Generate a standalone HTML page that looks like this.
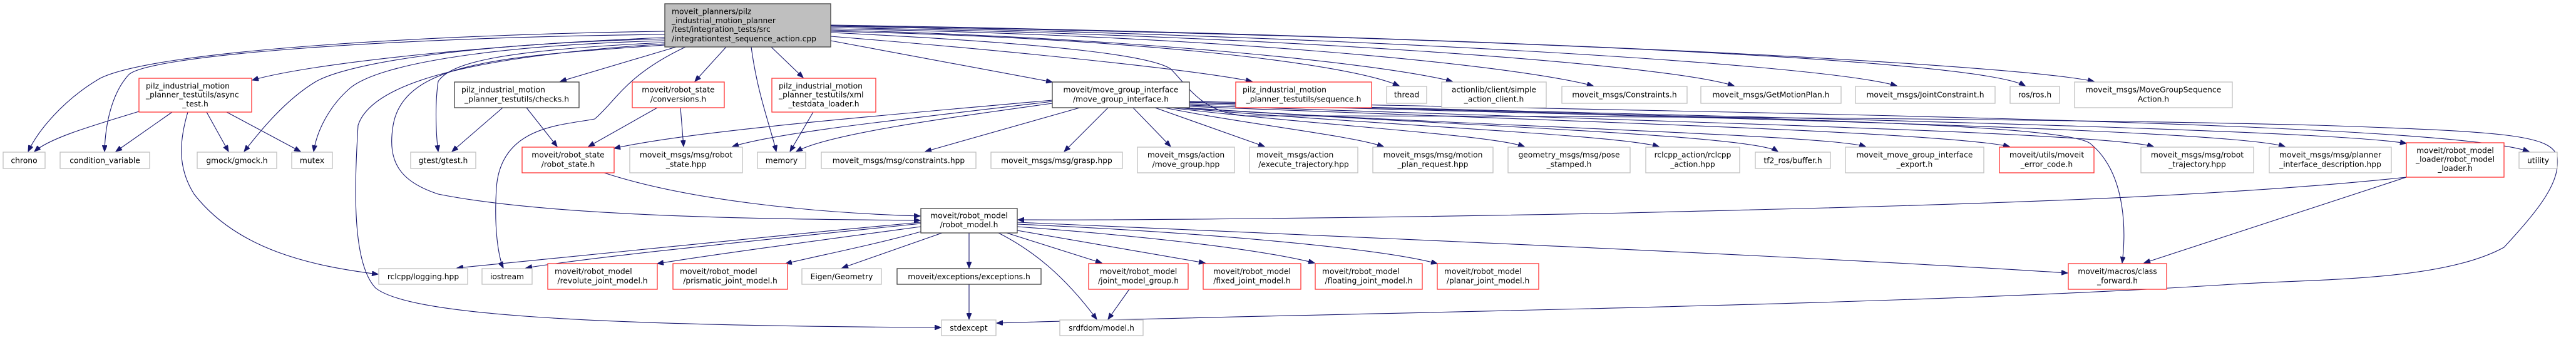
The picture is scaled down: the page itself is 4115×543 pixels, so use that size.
<!DOCTYPE html>
<html><head><meta charset="utf-8"><style>
html,body{margin:0;padding:0;background:#fff;}
svg{display:block;}
text{font-family:"DejaVu Sans","Liberation Sans",sans-serif;font-size:12.3px;fill:#000;}
.g{fill:#fff;stroke:#bfbfbf;stroke-width:1.3}
.r{fill:#fff;stroke:#ff3333;stroke-width:1.3}
.k{fill:#fff;stroke:#404040;stroke-width:1.3}
.m{fill:#bfbfbf;stroke:#404040;stroke-width:1.3}
path{fill:none;stroke:#191970;stroke-width:1.1;marker-end:url(#a)}
</style></head><body>
<svg width="4115" height="543" viewBox="0 0 4115 543" xmlns="http://www.w3.org/2000/svg">
<defs><marker id="a" markerUnits="userSpaceOnUse" markerWidth="11" markerHeight="8" refX="10" refY="4" orient="auto"><polygon points="0,0 10,4 0,8" fill="#191970" stroke="#191970"/></marker></defs>
<!-- edges from main -->
<path d="M1062,50 C700,55 250,80 160,125 C100,160 60,210 45,242"/>
<path d="M1062,55 C600,60 230,90 205,120 C178,150 168,200 167,242"/>
<path d="M1062,60 C800,70 500,100 403,128"/>
<path d="M1062,62 C750,70 560,100 505,130 C455,160 415,210 390,242"/>
<path d="M1062,65 C800,72 610,100 560,140 C525,170 506,210 501,242"/>
<path d="M1062,68 C800,80 720,100 700,130 C694,170 697,220 700,242"/>
<path d="M1062,70 C760,90 595,130 572,200 C566,300 562,420 600,460 C650,500 900,520 1503,523"/>
<path d="M1062,72 C800,90 645,100 628,200 C618,260 640,290 700,310 C900,350 1300,350 1470,352"/>
<path d="M1095,75 C1000,120 985,160 950,190 C900,200 800,200 793,300 C788,380 800,420 804,428"/>
<path d="M1080,75 L895,130"/>
<path d="M1160,75 L1110,130"/>
<path d="M1200,75 C1210,150 1230,200 1240,242"/>
<path d="M1232,75 L1283,124"/>
<path d="M1327,65 L1681,131"/>
<path d="M1327,58 C1600,80 1900,110 2000,130"/>
<path d="M1327,50 C1800,60 2150,100 2235,137"/>
<path d="M1327,48 C1800,60 2200,100 2320,130"/>
<path d="M1327,46 C1900,55 2400,100 2545,137"/>
<path d="M1327,44 C2000,55 2650,100 2770,137"/>
<path d="M1327,42 C2100,55 2900,100 3030,137"/>
<path d="M1327,41 C2200,55 3150,90 3235,137"/>
<path d="M1327,40 C2300,55 3200,100 3345,130"/>
<path d="M1327,52 C1700,70 1840,90 1870,110 C1900,140 1920,180 1990,185 C2600,185 3300,190 3700,200 C4000,210 4075,215 4085,250 C4090,290 4060,330 4000,395 C3900,450 3700,445 3550,455 C3000,490 2100,500 1592,516"/>
<!-- from move_group_interface -->
<path d="M1681,160 C1400,185 1100,210 981,237"/>
<path d="M1681,162 C1450,190 1250,210 1170,234"/>
<path d="M1681,165 C1500,190 1320,215 1272,242"/>
<path d="M1725,172 L1478,242"/>
<path d="M1770,172 L1700,242"/>
<path d="M1810,172 L1870,234"/>
<path d="M1845,172 L2020,234"/>
<path d="M1860,172 C2000,200 2150,215 2210,234"/>
<path d="M1870,172 C2100,200 2380,215 2435,234"/>
<path d="M1880,172 C2200,200 2580,215 2650,234"/>
<path d="M1890,172 C2300,200 2800,215 2840,242"/>
<path d="M1895,172 C2300,200 2920,215 2980,234"/>
<path d="M1900,170 C2400,190 3100,210 3210,234"/>
<path d="M1900,168 C2500,190 3350,210 3440,234"/>
<path d="M1900,166 C2600,185 3550,205 3650,234"/>
<path d="M1900,164 C2700,185 3700,205 3844,229"/>
<path d="M1900,162 C2800,180 3900,195 4040,242"/>
<path d="M1900,163 C2500,185 3300,190 3340,230 C3400,280 3395,380 3390,420"/>
<!-- others -->
<path d="M222,178 C150,200 80,220 55,242"/>
<path d="M275,179 L185,242"/>
<path d="M330,179 L365,242"/>
<path d="M362,179 L480,242"/>
<path d="M300,179 C285,230 285,270 310,310 C380,400 500,425 604,438"/>
<path d="M803,172 L722,242"/>
<path d="M841,172 L890,234"/>
<path d="M1050,172 L940,234"/>
<path d="M1087,172 L1092,234"/>
<path d="M1299,179 L1262,242"/>
<path d="M965,276 C1100,320 1300,340 1470,345"/>
<path d="M3844,283 C3500,320 3000,330 2600,340 C2200,348 1800,352 1626,351"/>
<path d="M3844,283 L3425,420"/>
<path d="M1471,355 C1200,380 900,410 730,428"/>
<path d="M1471,357 C1200,385 950,410 840,428"/>
<path d="M1471,362 C1300,385 1150,405 1050,421"/>
<path d="M1471,370 C1400,390 1300,410 1255,421"/>
<path d="M1505,372 L1345,428"/>
<path d="M1548,372 L1548,428"/>
<path d="M1595,372 C1650,400 1700,440 1752,510"/>
<path d="M1608,372 L1760,420"/>
<path d="M1625,368 L1925,420"/>
<path d="M1625,362 C1800,375 2000,395 2100,420"/>
<path d="M1625,358 C1900,370 2200,395 2296,421"/>
<path d="M1625,355 C2200,380 2900,410 3303,436"/>
<path d="M1804,462 L1770,510"/>
<path d="M1548,454 L1548,510"/>
<!-- nodes -->
<g>
<rect class="m" x="1062" y="6" width="265" height="69"/>
<text x="1073" y="22.5">moveit_planners/pilz</text><text x="1073" y="37">_industrial_motion_planner</text><text x="1073" y="51">/test/integration_tests/src</text><text x="1073" y="66">/integrationtest_sequence_action.cpp</text>
</g>
<rect class="r" x="222" y="125" width="180" height="54"/>
<text x="233" y="141.5">pilz_industrial_motion</text><text x="233" y="155.5">_planner_testutils/async</text><text x="312" y="170" text-anchor="middle">_test.h</text>
<rect class="g" x="5" y="243" width="67" height="26"/><text x="38.5" y="260.5" text-anchor="middle">chrono</text>
<rect class="g" x="96" y="243" width="143" height="26"/><text x="167.5" y="260.5" text-anchor="middle">condition_variable</text>
<rect class="g" x="315" y="243" width="127" height="26"/><text x="378.5" y="260.5" text-anchor="middle">gmock/gmock.h</text>
<rect class="g" x="466" y="243" width="65" height="26"/><text x="498.5" y="260.5" text-anchor="middle">mutex</text>
<rect class="g" x="656" y="243" width="104" height="26"/><text x="708" y="260.5" text-anchor="middle">gtest/gtest.h</text>
<rect class="k" x="726" y="131" width="199" height="41"/><text x="737" y="147.5">pilz_industrial_motion</text><text x="825.5" y="162.5" text-anchor="middle">_planner_testutils/checks.h</text>
<rect class="r" x="1010" y="131" width="147" height="41"/><text x="1083.5" y="147.5" text-anchor="middle">moveit/robot_state</text><text x="1083.5" y="162.5" text-anchor="middle">/conversions.h</text>
<rect class="r" x="1233" y="125" width="166" height="54"/><text x="1244" y="141.5">pilz_industrial_motion</text><text x="1244" y="155.5">_planner_testutils/xml</text><text x="1316" y="170" text-anchor="middle">_testdata_loader.h</text>
<rect class="r" x="834" y="235" width="147" height="41"/><text x="907.5" y="251.5" text-anchor="middle">moveit/robot_state</text><text x="907.5" y="266.5" text-anchor="middle">/robot_state.h</text>
<rect class="g" x="1006" y="235" width="180" height="41"/><text x="1096" y="251.5" text-anchor="middle">moveit_msgs/msg/robot</text><text x="1096" y="266.5" text-anchor="middle">_state.hpp</text>
<rect class="g" x="1210" y="243" width="77" height="26"/><text x="1248.5" y="260.5" text-anchor="middle">memory</text>
<rect class="g" x="1312" y="243" width="247" height="26"/><text x="1435.5" y="260.5" text-anchor="middle">moveit_msgs/msg/constraints.hpp</text>
<rect class="g" x="1583" y="243" width="210" height="26"/><text x="1688" y="260.5" text-anchor="middle">moveit_msgs/msg/grasp.hpp</text>
<rect class="k" x="1681" y="131" width="219" height="41"/><text x="1790.5" y="147.5" text-anchor="middle">moveit/move_group_interface</text><text x="1790.5" y="162.5" text-anchor="middle">/move_group_interface.h</text>
<rect class="r" x="1974" y="131" width="217" height="41"/><text x="1985" y="147.5">pilz_industrial_motion</text><text x="2082.5" y="162.5" text-anchor="middle">_planner_testutils/sequence.h</text>
<rect class="g" x="2215" y="138" width="64" height="27"/><text x="2247" y="155.5" text-anchor="middle">thread</text>
<rect class="g" x="2303" y="131" width="167" height="41"/><text x="2386.5" y="147.5" text-anchor="middle">actionlib/client/simple</text><text x="2386.5" y="162.5" text-anchor="middle">_action_client.h</text>
<rect class="g" x="2495" y="138" width="200" height="27"/><text x="2595" y="155.5" text-anchor="middle">moveit_msgs/Constraints.h</text>
<rect class="g" x="2717" y="138" width="224" height="27"/><text x="2829" y="155.5" text-anchor="middle">moveit_msgs/GetMotionPlan.h</text>
<rect class="g" x="2964" y="138" width="223" height="27"/><text x="3075.5" y="155.5" text-anchor="middle">moveit_msgs/JointConstraint.h</text>
<rect class="g" x="3211" y="138" width="79" height="27"/><text x="3250.5" y="155.5" text-anchor="middle">ros/ros.h</text>
<rect class="g" x="3314" y="131" width="252" height="41"/><text x="3440" y="147.5" text-anchor="middle">moveit_msgs/MoveGroupSequence</text><text x="3440" y="162.5" text-anchor="middle">Action.h</text>
<rect class="g" x="1817" y="235" width="155" height="41"/><text x="1894.5" y="251.5" text-anchor="middle">moveit_msgs/action</text><text x="1894.5" y="266.5" text-anchor="middle">/move_group.hpp</text>
<rect class="g" x="1996" y="235" width="173" height="41"/><text x="2007" y="251.5">moveit_msgs/action</text><text x="2082.5" y="266.5" text-anchor="middle">/execute_trajectory.hpp</text>
<rect class="g" x="2193" y="235" width="192" height="41"/><text x="2289" y="251.5" text-anchor="middle">moveit_msgs/msg/motion</text><text x="2289" y="266.5" text-anchor="middle">_plan_request.hpp</text>
<rect class="g" x="2409" y="235" width="195" height="41"/><text x="2506.5" y="251.5" text-anchor="middle">geometry_msgs/msg/pose</text><text x="2506.5" y="266.5" text-anchor="middle">_stamped.h</text>
<rect class="g" x="2629" y="235" width="150" height="41"/><text x="2704" y="251.5" text-anchor="middle">rclcpp_action/rclcpp</text><text x="2704" y="266.5" text-anchor="middle">_action.hpp</text>
<rect class="g" x="2804" y="243" width="120" height="26"/><text x="2864" y="260.5" text-anchor="middle">tf2_ros/buffer.h</text>
<rect class="g" x="2948" y="235" width="221" height="41"/><text x="3058.5" y="251.5" text-anchor="middle">moveit_move_group_interface</text><text x="3058.5" y="266.5" text-anchor="middle">_export.h</text>
<rect class="r" x="3194" y="235" width="151" height="41"/><text x="3269.5" y="251.5" text-anchor="middle">moveit/utils/moveit</text><text x="3269.5" y="266.5" text-anchor="middle">_error_code.h</text>
<rect class="g" x="3420" y="235" width="180" height="41"/><text x="3510" y="251.5" text-anchor="middle">moveit_msgs/msg/robot</text><text x="3510" y="266.5" text-anchor="middle">_trajectory.hpp</text>
<rect class="g" x="3625" y="235" width="195" height="41"/><text x="3722.5" y="251.5" text-anchor="middle">moveit_msgs/msg/planner</text><text x="3722.5" y="266.5" text-anchor="middle">_interface_description.hpp</text>
<rect class="r" x="3844" y="228" width="156" height="55"/><text x="3922" y="244.5" text-anchor="middle">moveit/robot_model</text><text x="3922" y="258.5" text-anchor="middle">_loader/robot_model</text><text x="3922" y="273" text-anchor="middle">_loader.h</text>
<rect class="g" x="4024" y="243" width="61" height="26"/><text x="4054.5" y="260.5" text-anchor="middle">utility</text>
<rect class="k" x="1471" y="333" width="154" height="39"/><text x="1548" y="348.5" text-anchor="middle">moveit/robot_model</text><text x="1548" y="363" text-anchor="middle">/robot_model.h</text>
<rect class="g" x="605" y="429" width="142" height="25"/><text x="676" y="446" text-anchor="middle">rclcpp/logging.hpp</text>
<rect class="g" x="770" y="429" width="80" height="25"/><text x="810" y="446" text-anchor="middle">iostream</text>
<rect class="r" x="875" y="421" width="175" height="41"/><text x="886" y="437.5">moveit/robot_model</text><text x="962.5" y="452.5" text-anchor="middle">/revolute_joint_model.h</text>
<rect class="r" x="1075" y="421" width="183" height="41"/><text x="1086" y="437.5">moveit/robot_model</text><text x="1166.5" y="452.5" text-anchor="middle">/prismatic_joint_model.h</text>
<rect class="g" x="1281" y="429" width="127" height="25"/><text x="1344.5" y="446" text-anchor="middle">Eigen/Geometry</text>
<rect class="k" x="1433" y="429" width="230" height="25"/><text x="1548" y="446" text-anchor="middle">moveit/exceptions/exceptions.h</text>
<rect class="r" x="1739" y="421" width="159" height="41"/><text x="1818.5" y="437.5" text-anchor="middle">moveit/robot_model</text><text x="1818.5" y="452.5" text-anchor="middle">/joint_model_group.h</text>
<rect class="r" x="1922" y="421" width="156" height="41"/><text x="2000" y="437.5" text-anchor="middle">moveit/robot_model</text><text x="2000" y="452.5" text-anchor="middle">/fixed_joint_model.h</text>
<rect class="r" x="2101" y="421" width="171" height="41"/><text x="2112" y="437.5">moveit/robot_model</text><text x="2186.5" y="452.5" text-anchor="middle">/floating_joint_model.h</text>
<rect class="r" x="2296" y="421" width="162" height="41"/><text x="2307" y="437.5">moveit/robot_model</text><text x="2377" y="452.5" text-anchor="middle">/planar_joint_model.h</text>
<rect class="r" x="3304" y="421" width="157" height="41"/><text x="3382.5" y="437.5" text-anchor="middle">moveit/macros/class</text><text x="3382.5" y="452.5" text-anchor="middle">_forward.h</text>
<rect class="g" x="1504" y="511" width="87" height="25"/><text x="1547.5" y="528" text-anchor="middle">stdexcept</text>
<rect class="g" x="1693" y="511" width="133" height="25"/><text x="1759.5" y="528" text-anchor="middle">srdfdom/model.h</text>
</svg>
</body></html>
